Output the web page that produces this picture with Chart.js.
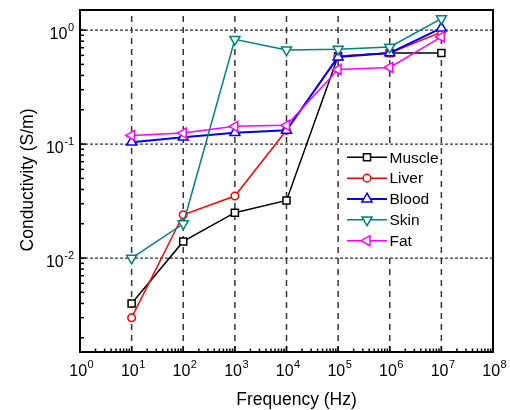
<!DOCTYPE html>
<html><head><meta charset="utf-8">
<script src="https://cdn.jsdelivr.net/npm/chart.js@4.4.1/dist/chart.umd.min.js"></script>
<style>html,body{margin:0;padding:0;background:#fff}canvas{display:block}</style>
</head><body>
<canvas id="c" width="510" height="410"></canvas>
<script>
// ---- data ----
const frequencies = [1e1, 1e2, 1e3, 1e4, 1e5, 1e6, 1e7];
const muscle = [0.004, 0.014, 0.025, 0.032, 0.59, 0.63, 0.63];
const liver  = [0.003, 0.024, 0.035, 0.132, 0.59, 0.63, 0.96];
const blood  = [0.104, 0.115, 0.126, 0.132, 0.58, 0.63, 1.04];
const skin   = [0.010, 0.020, 0.83, 0.67, 0.68, 0.71, 1.26];
const fat    = [0.119, 0.125, 0.143, 0.146, 0.45, 0.47, 0.87];
const seriesNames = ['Muscle', 'Liver', 'Blood', 'Skin', 'Fat'];
const xTickExponents = [0, 1, 2, 3, 4, 5, 6, 7, 8];
const yTickExponents = [0, -1, -2];
const xAxisTitle = 'Frequency (Hz)';
const yAxisTitle = 'Conductivity (S/m)';

const FONT = '"Liberation Sans", Arial, Helvetica, sans-serif';

const styles = [
  {color: '#000000', shape: 'rect', r: 5, rot: 0, w: 1.5},
  {color: '#ff0000', shape: 'circle', r: 3.8, rot: 0, w: 1.5},
  {color: '#0000ff', shape: 'triangle', r: 5.8, rot: 0, w: 2},
  {color: '#008080', shape: 'triangle', r: 5.8, rot: 180, w: 1.5},
  {color: '#ff00ff', shape: 'triangle', r: 5.8, rot: -90, w: 1.5}
];
const allSeries = [muscle, liver, blood, skin, fat];
const drawOrder = [5, 4, 3, 2, 1];

const datasets = allSeries.map((vals, i) => ({
  label: seriesNames[i],
  data: frequencies.map((f, j) => ({x: f, y: vals[j]})),
  borderColor: styles[i].color,
  backgroundColor: '#ffffff',
  borderWidth: styles[i].w,
  pointStyle: styles[i].shape,
  pointRotation: styles[i].rot,
  pointRadius: styles[i].r,
  pointBorderWidth: 1.5,
  pointBorderColor: styles[i].color,
  pointBackgroundColor: '#ffffff',
  tension: 0,
  order: drawOrder[i]
}));

function drawMarker(ctx, shape, x, y, r, rotDeg) {
  ctx.beginPath();
  if (shape === 'circle') {
    ctx.arc(x, y, r, 0, Math.PI * 2);
  } else if (shape === 'rect') {
    const s = Math.SQRT1_2 * r;
    ctx.rect(x - s, y - s, 2 * s, 2 * s);
  } else {
    let rad = rotDeg * Math.PI / 180;
    const T = 2 * Math.PI / 3;
    ctx.moveTo(x + Math.sin(rad) * r, y - Math.cos(rad) * r);
    rad += T; ctx.lineTo(x + Math.sin(rad) * r, y - Math.cos(rad) * r);
    rad += T; ctx.lineTo(x + Math.sin(rad) * r, y - Math.cos(rad) * r);
    ctx.closePath();
  }
  ctx.fill();
  ctx.stroke();
}

function drawPow(ctx, exp, x, y, align) {
  const base = '10';
  const e = String(exp);
  ctx.font = '16px ' + FONT;
  const w1 = ctx.measureText(base).width;
  ctx.font = '11px ' + FONT;
  const w2 = ctx.measureText(e).width;
  const gap = 0.5;
  const total = w1 + gap + w2;
  const x0 = align === 'center' ? x - total / 2 : x - total;
  ctx.textAlign = 'left';
  ctx.textBaseline = 'alphabetic';
  ctx.font = '16px ' + FONT;
  ctx.fillText(base, x0, y);
  ctx.font = '11px ' + FONT;
  ctx.fillText(e, x0 + w1 + gap, y - 7.5);
}

const decor = {
  id: 'decor',
  beforeDatasetsDraw(chart) {
    const {ctx, chartArea: a, scales: {x, y}} = chart;
    ctx.save();
    ctx.strokeStyle = '#333333';
    // vertical dashed grid
    ctx.lineWidth = 1.5;
    ctx.setLineDash([6, 5]);
    xTickExponents.forEach(k => {
      if (k === xTickExponents[0] || k === xTickExponents[xTickExponents.length - 1]) return;
      const px = x.getPixelForValue(Math.pow(10, k));
      ctx.beginPath(); ctx.moveTo(px, a.bottom); ctx.lineTo(px, a.top); ctx.stroke();
    });
    // horizontal dotted grid
    ctx.lineWidth = 1.3;
    ctx.setLineDash([3, 2]);
    yTickExponents.forEach(k => {
      const py = y.getPixelForValue(Math.pow(10, k));
      ctx.beginPath(); ctx.moveTo(a.left, py); ctx.lineTo(a.right, py); ctx.stroke();
    });
    ctx.restore();
  },
  afterDatasetsDraw(chart) {
    const {ctx} = chart;
    ctx.save();
    // legend
    ctx.fillStyle = '#ffffff';
    ctx.fillRect(341, 147, 97, 107);
    const y0 = 157.3, step = 20.85;
    seriesNames.forEach((name, i) => {
      const yy = y0 + i * step;
      const s = styles[i];
      ctx.strokeStyle = s.color;
      ctx.lineWidth = s.w;
      ctx.beginPath(); ctx.moveTo(347, yy); ctx.lineTo(387, yy); ctx.stroke();
      ctx.fillStyle = '#ffffff';
      ctx.lineWidth = 1.5;
      drawMarker(ctx, s.shape, 367, yy, s.r, s.rot);
      ctx.fillStyle = '#000000';
      ctx.font = '15.5px ' + FONT;
      ctx.textAlign = 'left';
      ctx.textBaseline = 'middle';
      ctx.fillText(name, 389.5, yy + 1);
    });
    ctx.restore();
  },
  afterDraw(chart) {
    const {ctx, chartArea: a, scales: {x, y}} = chart;
    ctx.save();
    ctx.strokeStyle = '#000000';
    ctx.lineWidth = 1.5;
    // x ticks (inside)
    for (let k = 0; k < 8; k++) {
      for (let m = 2; m <= 9; m++) {
        const px = x.getPixelForValue(m * Math.pow(10, k));
        ctx.beginPath(); ctx.moveTo(px, a.bottom); ctx.lineTo(px, a.bottom - 3.5); ctx.stroke();
      }
    }
    xTickExponents.forEach(k => {
      const px = x.getPixelForValue(Math.pow(10, k));
      ctx.beginPath(); ctx.moveTo(px, a.bottom); ctx.lineTo(px, a.bottom - 6); ctx.stroke();
    });
    // y ticks (inside)
    for (let k = -3; k <= 0; k++) {
      for (let m = 2; m <= 9; m++) {
        const v = m * Math.pow(10, k);
        if (v < y.min || v > y.max) continue;
        const py = y.getPixelForValue(v);
        ctx.beginPath(); ctx.moveTo(a.left, py); ctx.lineTo(a.left + 4, py); ctx.stroke();
      }
    }
    yTickExponents.forEach(k => {
      const py = y.getPixelForValue(Math.pow(10, k));
      ctx.beginPath(); ctx.moveTo(a.left, py); ctx.lineTo(a.left + 6, py); ctx.stroke();
    });
    // frame
    ctx.lineWidth = 2;
    ctx.strokeRect(a.left, a.top, a.right - a.left, a.bottom - a.top);
    // tick labels
    ctx.fillStyle = '#000000';
    xTickExponents.forEach(k => {
      const px = x.getPixelForValue(Math.pow(10, k));
      drawPow(ctx, k, px + 1.5, 375.7, 'center');
    });
    yTickExponents.forEach(k => {
      const py = y.getPixelForValue(Math.pow(10, k));
      drawPow(ctx, k, 74, py + 8.6, 'right');
    });
    // axis titles
    ctx.font = '17.5px ' + FONT;
    ctx.textAlign = 'center';
    ctx.textBaseline = 'alphabetic';
    ctx.fillText(xAxisTitle, 296.5, 405);
    ctx.save();
    ctx.translate(33, 180);
    ctx.rotate(-Math.PI / 2);
    ctx.fillText(yAxisTitle, 0, 0);
    ctx.restore();
    ctx.restore();
  }
};

new Chart(document.getElementById('c'), {
  type: 'line',
  data: {datasets},
  options: {
    responsive: false,
    animation: false,
    devicePixelRatio: 1,
    layout: {padding: {left: 80, right: 17, top: 10, bottom: 58}},
    scales: {
      x: {type: 'logarithmic', min: 1, max: 1e8, display: false},
      y: {type: 'logarithmic', min: 0.0015, max: 1.5, display: false}
    },
    plugins: {legend: {display: false}, tooltip: {enabled: false}},
    events: []
  },
  plugins: [decor]
});
</script>
</body></html>
